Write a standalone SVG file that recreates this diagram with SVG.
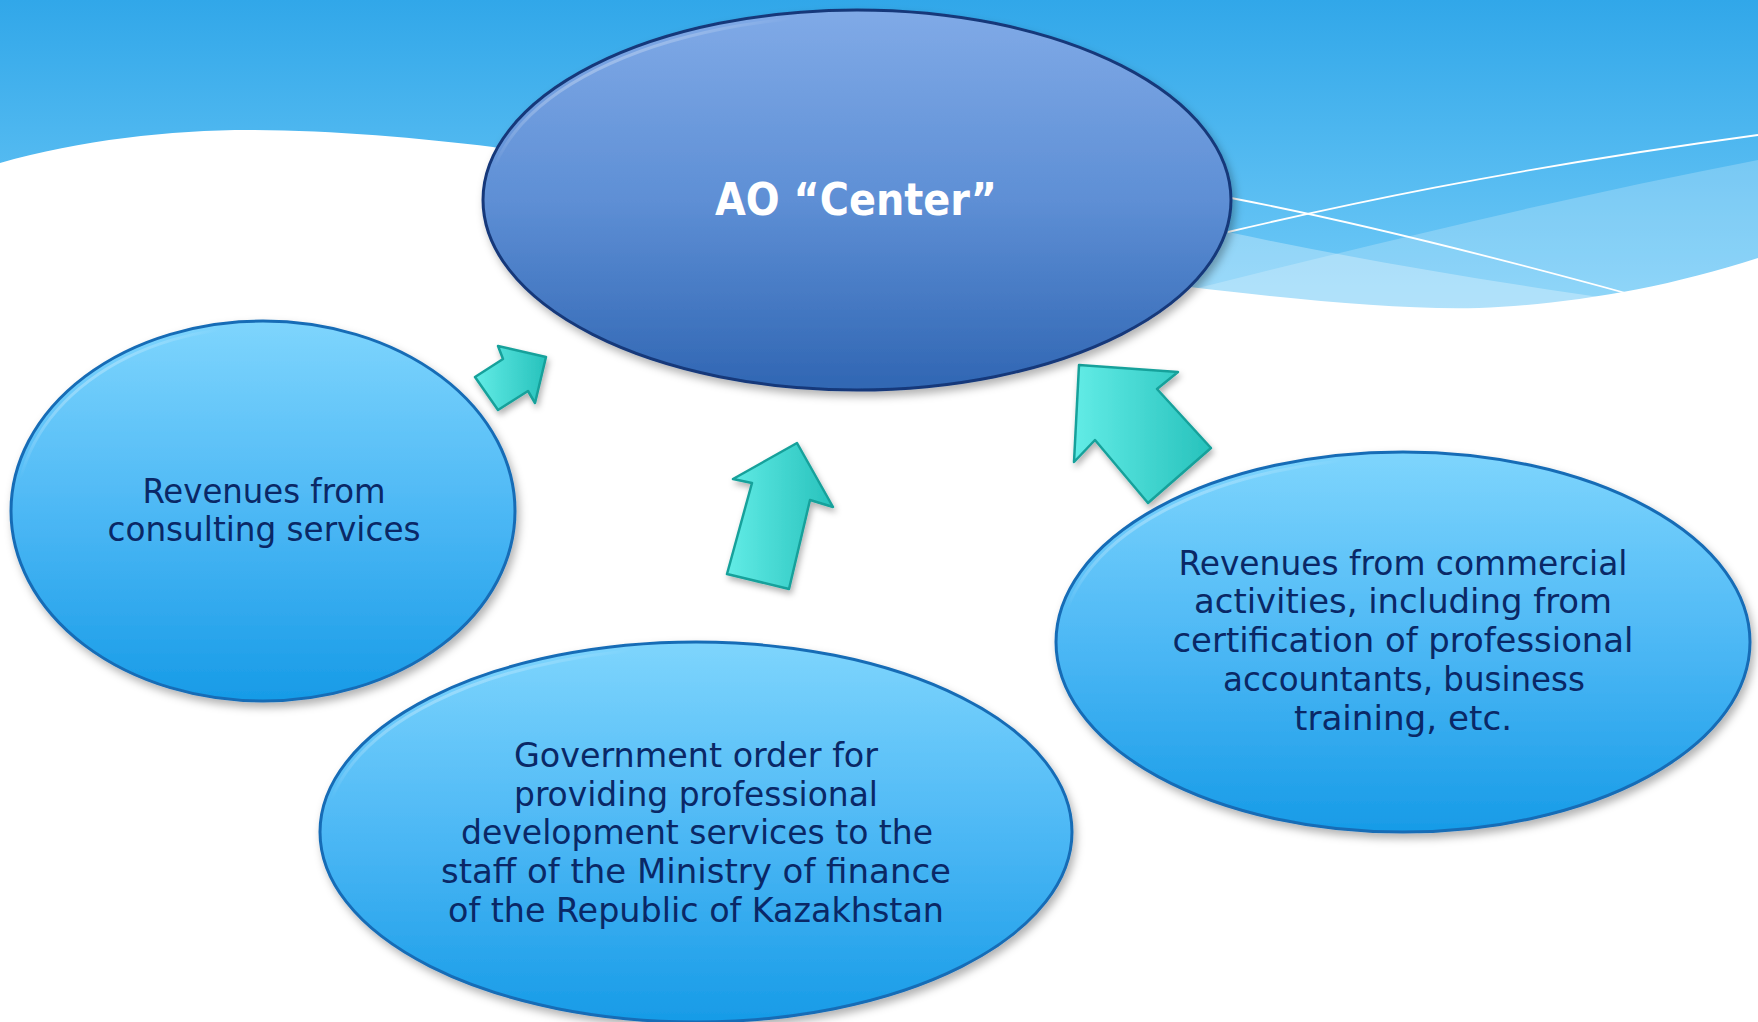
<svg xmlns="http://www.w3.org/2000/svg" width="1758" height="1022" viewBox="0 0 1758 1022">
<defs>
<linearGradient id="sky" gradientUnits="userSpaceOnUse" x1="0" y1="0" x2="0" y2="320">
<stop offset="0" stop-color="#31a7e9"/>
<stop offset="1" stop-color="#74ccf8"/>
</linearGradient>
<linearGradient id="lightEll" x1="0" y1="0" x2="0" y2="1">
<stop offset="0" stop-color="#7ed5fd"/>
<stop offset="0.5" stop-color="#4db8f5"/>
<stop offset="1" stop-color="#179be7"/>
</linearGradient>
<linearGradient id="centerEll" x1="0" y1="0" x2="0" y2="1">
<stop offset="0" stop-color="#80aae7"/>
<stop offset="0.5" stop-color="#5e8fd5"/>
<stop offset="1" stop-color="#3066b3"/>
</linearGradient>
<linearGradient id="hl" x1="0" y1="0" x2="0.6" y2="0.6">
<stop offset="0" stop-color="#ffffff" stop-opacity="0.9"/>
<stop offset="0.35" stop-color="#ffffff" stop-opacity="0"/>
</linearGradient>
<linearGradient id="teal" x1="0" y1="0" x2="1" y2="0">
<stop offset="0" stop-color="#62ece6"/>
<stop offset="1" stop-color="#27c2bc"/>
</linearGradient>
<filter id="shadow" x="-10%" y="-10%" width="125%" height="130%">
<feDropShadow dx="3" dy="5" stdDeviation="4" flood-color="#000" flood-opacity="0.3"/>
</filter>
<filter id="ashadow" x="-20%" y="-20%" width="150%" height="150%">
<feDropShadow dx="2" dy="4" stdDeviation="3" flood-color="#000" flood-opacity="0.3"/>
</filter>
</defs>
<style>
.ell{fill:url(#lightEll);stroke:#176cb6;stroke-width:3;filter:url(#shadow)}
.cell{fill:url(#centerEll);stroke:#15397a;stroke-width:3;filter:url(#shadow)}
.hl{fill:none;stroke:url(#hl);stroke-width:3}
.t{font-family:"DejaVu Sans Condensed","DejaVu Sans",sans-serif;font-size:33px;fill:#0a2866;text-anchor:middle}
.ct{font-family:"DejaVu Sans Condensed","DejaVu Sans",sans-serif;font-size:45px;font-weight:bold;fill:#ffffff;text-anchor:middle}
.arr{fill:url(#teal);stroke:#17a19b;stroke-width:2.5;stroke-linejoin:round;filter:url(#ashadow)}
</style>
<g id="background">
<rect x="0" y="0" width="1758" height="1022" fill="url(#sky)"/>
<path d="M1150,300 C1350,250 1550,200 1758,160 L1758,330 L1150,330 Z" fill="#ffffff" fill-opacity="0.22"/>
<path d="M420,145 C700,170 1000,210 1228,232 C1350,258 1480,280 1620,300 L1620,330 L420,330 Z" fill="#ffffff" fill-opacity="0.3"/>
<path d="M0,163 C80,140 170,130 250,130 C330,130 420,138 493,147 L1000,250 C1100,275 1150,285 1190,287 C1300,300 1400,310 1479,308 C1560,305 1660,290 1758,258 L1758,1022 L0,1022 Z" fill="#ffffff"/>
<path d="M1231,198 C1320,215 1450,245 1629,294" fill="none" stroke="#ffffff" stroke-width="1.8"/>
<path d="M1228,232 C1330,208 1500,170 1758,135" fill="none" stroke="#ffffff" stroke-width="1.8"/>
</g>
<g id="connectors">
<polygon class="arr" points="546,357 498,346 503,359 475,377 498,410 528,391 535,403"/>
<polygon class="arr" points="797,443 833,507 810,500 789,589 727,574 752,483 733,479"/>
<polygon class="arr" points="1079,365 1178,372 1157,389 1211,448 1148,503 1095,440 1074,462"/>
</g>
<g id="node-center">
<ellipse class="cell" cx="857" cy="200" rx="374" ry="190"/>
<ellipse class="hl" cx="857" cy="200" rx="368" ry="184"/>
<text class="ct" x="856" y="215" textLength="282" lengthAdjust="spacingAndGlyphs">AO “Center”</text>
</g>
<g id="node-consulting">
<ellipse class="ell" cx="263" cy="511" rx="252" ry="190"/>
<ellipse class="hl" cx="263" cy="511" rx="246" ry="184"/>
<text class="t" x="264" y="503" textLength="243" lengthAdjust="spacingAndGlyphs">Revenues from</text>
<text class="t" x="264" y="541" textLength="313" lengthAdjust="spacingAndGlyphs">consulting services</text>
</g>
<g id="node-government">
<ellipse class="ell" cx="696" cy="832" rx="376" ry="190"/>
<ellipse class="hl" cx="696" cy="832" rx="370" ry="184"/>
<text class="t" x="696" y="767" textLength="364" lengthAdjust="spacingAndGlyphs">Government order for</text>
<text class="t" x="696" y="806" textLength="364" lengthAdjust="spacingAndGlyphs">providing professional</text>
<text class="t" x="697" y="844" textLength="472" lengthAdjust="spacingAndGlyphs">development services to the</text>
<text class="t" x="696" y="883" textLength="510" lengthAdjust="spacingAndGlyphs">staff of the Ministry of finance</text>
<text class="t" x="696" y="922" textLength="496" lengthAdjust="spacingAndGlyphs">of the Republic of Kazakhstan</text>
</g>
<g id="node-commercial">
<ellipse class="ell" cx="1403" cy="642" rx="347" ry="190"/>
<ellipse class="hl" cx="1403" cy="642" rx="341" ry="184"/>
<text class="t" x="1403" y="575" textLength="449" lengthAdjust="spacingAndGlyphs">Revenues from commercial</text>
<text class="t" x="1403" y="613" textLength="418" lengthAdjust="spacingAndGlyphs">activities, including from</text>
<text class="t" x="1403" y="652" textLength="461" lengthAdjust="spacingAndGlyphs">certification of professional</text>
<text class="t" x="1404" y="691" textLength="362" lengthAdjust="spacingAndGlyphs">accountants, business</text>
<text class="t" x="1403" y="730" textLength="218" lengthAdjust="spacingAndGlyphs">training, etc.</text>
</g>
</svg>
